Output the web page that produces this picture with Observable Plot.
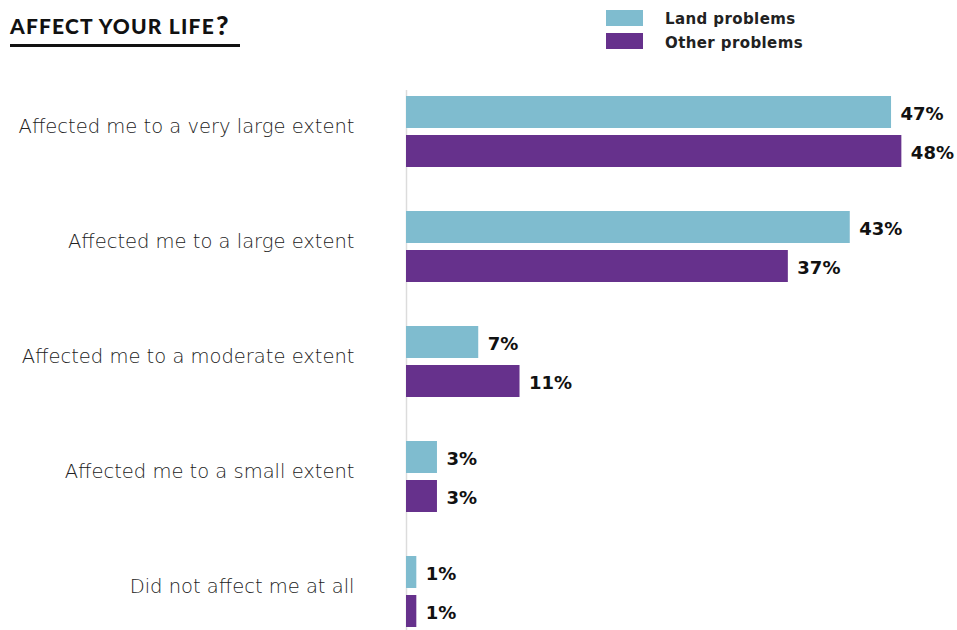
<!DOCTYPE html>
<html>
<head>
<meta charset="utf-8">
<script src="https://cdn.jsdelivr.net/npm/d3@7"></script>
<script src="https://cdn.jsdelivr.net/npm/@observablehq/plot@0.6"></script>
<style>
  html, body { margin: 0; padding: 0; background: #fff; overflow: hidden; }
  #header { position: relative; height: 60px; width: 957px; font-family: "DejaVu Sans", sans-serif; }
  #title { position: absolute; left: 10px; top: 7px; font-family: Lato, sans-serif; font-weight: 900; font-size: 21px; letter-spacing: 1.2px; color: #111; white-space: nowrap; }
  #title .q { font-size: 27px; letter-spacing: 0; position: relative; top: 1px; margin-left: 1px; }
  #underline { position: absolute; left: 10px; top: 44px; width: 230px; height: 3px; background: #111; }
  .leg { position: absolute; left: 606px; width: 37px; height: 16px; }
  .legtxt { position: absolute; left: 665px; font-weight: 700; font-size: 15px; color: #222; letter-spacing: 0.4px; white-space: nowrap; }
  #chart { display: block; }
</style>
</head>
<body>
<div id="header">
  <div id="title">AFFECT YOUR LIFE<span class="q">?</span></div>
  <div id="underline"></div>
  <div id="legend"></div>
</div>
<div id="chart"></div>
<script>
const categories = [
  "Affected me to a very large extent",
  "Affected me to a large extent",
  "Affected me to a moderate extent",
  "Affected me to a small extent",
  "Did not affect me at all"
];
const seriesNames = ["Land problems", "Other problems"];
const seriesColors = ["#7fbccf", "#66318c"];
const landValues = [47, 43, 7, 3, 1];
const otherValues = [48, 37, 11, 3, 1];

// legend
const legend = document.getElementById("legend");
seriesNames.forEach((name, i) => {
  const sw = document.createElement("div");
  sw.className = "leg";
  sw.style.top = (10 + i * 23) + "px";
  sw.style.background = seriesColors[i];
  legend.appendChild(sw);
  const t = document.createElement("div");
  t.className = "legtxt";
  t.style.top = (10 + i * 24) + "px";
  t.textContent = name;
  legend.appendChild(t);
});

const data = [];
categories.forEach((c, i) => {
  data.push({category: c, series: seriesNames[0], value: landValues[i]});
  data.push({category: c, series: seriesNames[1], value: otherValues[i]});
});

const chart = Plot.plot({
  width: 957,
  height: 650,
  marginLeft: 406,
  marginRight: 35,
  marginTop: 14,
  marginBottom: 61,
  style: {fontFamily: "'DejaVu Sans', sans-serif", background: "#fff"},
  x: {domain: [0, 50], axis: null},
  y: {domain: seriesNames, paddingInner: 7 / 39, paddingOuter: 0, axis: null},
  fy: {domain: categories, paddingInner: 44 / 115, paddingOuter: 22 / 115, label: null},
  color: {domain: seriesNames, range: seriesColors},
  marks: [
    Plot.ruleX(data.filter(d => d.category === categories[0] && d.series === seriesNames[0]),
      {x: 0, fy: "category", stroke: "#dcdcdc", strokeWidth: 1.5, insetTop: -6, insetBottom: -22}),
    Plot.ruleX(data.filter(d => d.category !== categories[0] && d.series === seriesNames[0]),
      {x: 0, fy: "category", stroke: "#dcdcdc", strokeWidth: 1.5, insetTop: -22, insetBottom: -22}),
    Plot.barX(data, {x: "value", y: "series", fy: "category", fill: "series"}),
    Plot.text(data, {
      x: "value", y: "series", fy: "category",
      text: d => d.value + "%",
      textAnchor: "start", dx: 9, dy: 2,
      fontSize: 18, fontWeight: 700, fill: "#111",
      style: "letter-spacing: 0.8px"
    }),
    Plot.axisFy({
      anchor: "left", tickSize: 0, tickPadding: 52, label: null,
      fontSize: 19.5, fontWeight: 300, fill: "#222", dy: -5
    })
  ]
});
document.getElementById("chart").appendChild(chart);
</script>
</body>
</html>
